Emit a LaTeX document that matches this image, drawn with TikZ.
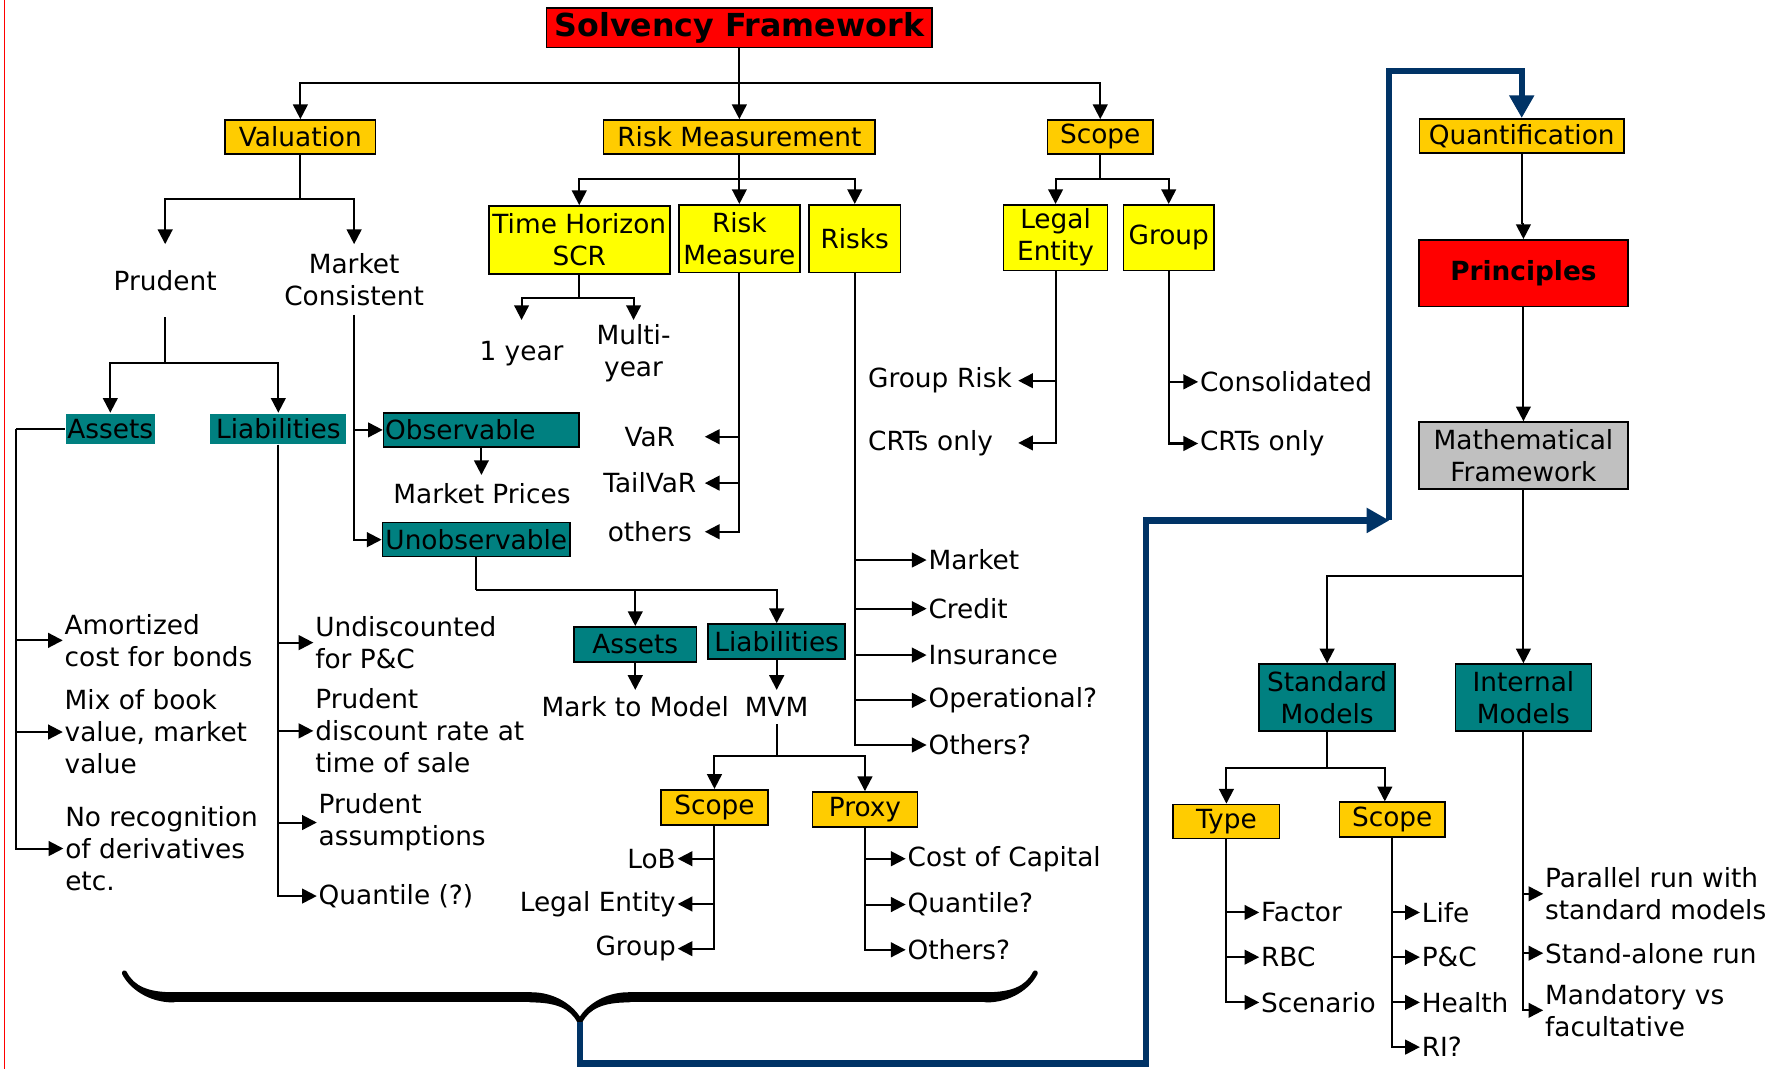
\documentclass[tikz,border=0pt]{standalone}
\usepackage{fontspec}
\setmainfont{DejaVu Sans}
\usetikzlibrary{arrows.meta,decorations.pathreplacing,calligraphy}
\definecolor{sfred}{HTML}{FF0000}
\definecolor{sforange}{HTML}{FFCC00}
\definecolor{sfyellow}{HTML}{FFFF00}
\definecolor{sfteal}{HTML}{008080}
\definecolor{sfgray}{HTML}{C0C0C0}
\definecolor{sfblue}{HTML}{003366}
\newcommand{\dgfont}{\fontsize{23.3pt}{28.3pt}\selectfont}
\newcommand{\dgbig}{\fontsize{28pt}{33pt}\selectfont}
\tikzset{
  box/.style={draw=black, line width=1.4pt, inner sep=0pt, align=center, font=\dgfont},
  obox/.style={box, fill=sforange},
  ybox/.style={box, fill=sfyellow},
  tbox/.style={box, fill=sfteal},
  tpatch/.style={box, draw=none, fill=sfteal},
  rbox/.style={box, fill=sfred, font=\dgfont\bfseries},
  gbox/.style={box, fill=sfgray},
  lbl/.style={inner sep=1.5pt, align=left, font=\dgfont},
  lblc/.style={lbl, align=center},
  link/.style={line width=1.8pt},
  arr/.style={link, -{Triangle[length=13pt,width=13pt]}},
  flow/.style={draw=sfblue, line width=5.5pt},
  flowarr/.style={flow, -{Triangle[length=20pt,width=21pt]}},
  bracket/.style={decorate, decoration={calligraphic brace, amplitude=43pt}, line width=9pt},
}
\begin{document}
\begin{tikzpicture}[x=1pt,y=-1pt]
\fill[white] (0,0) rectangle (1568,945);
\useasboundingbox (0,0) rectangle (1568,945);
\draw[red, line width=1pt] (4,0) -- (4,945);

% ---------- top level ----------
\node[rbox, font=\dgbig\bfseries, minimum width=341pt, minimum height=35pt] (sf) at (653.5,24.5) {Solvency Framework};
\node[obox, minimum width=133pt, minimum height=30pt] (val) at (265.5,121) {Valuation};
\node[obox, minimum width=240pt, minimum height=30pt] (rm) at (653.5,121) {Risk Measurement};
\node[obox, minimum width=93pt, minimum height=30pt] (sc1) at (972.5,121) {Scope};

\coordinate (j0) at (653.5,73.5);
\draw[link] (sf.south) -- (j0);
\draw[arr] (j0) -| (val.north);
\draw[arr] (j0) -- (rm.north);
\draw[arr] (j0) -| (sc1.north);

% ---------- valuation branch ----------
\node[lblc, minimum height=64pt] (prud) at (146,248) {Prudent};
\node[lblc, minimum height=62pt] (mc) at (313,247) {Market\\Consistent};
\coordinate (j1) at (265.5,176);
\draw[link] (val.south) -- (j1);
\draw[arr] (j1) -| (prud.north);
\draw[arr] (j1) -| (mc.north);

\node[tpatch, minimum width=79pt, minimum height=27pt] (as1) at (97.5,379) {Assets};
\node[tpatch, minimum width=120pt, minimum height=27pt] (li1) at (246,379) {Liabilities};
\coordinate (j2) at (146,321);
\draw[link] (prud.south) -- (j2);
\draw[arr] (j2) -| (as1.north);
\draw[arr] (j2) -| (li1.north);

\node[tbox, minimum width=173pt, minimum height=30pt, text width=170pt, align=left] (obs) at (425.5,380) {Observable};
\node[tbox, minimum width=166pt, minimum height=30pt] (unobs) at (421,477) {Unobservable};
\draw[arr] (mc.south) |- (obs.west);
\draw[arr] (mc.south) |- (unobs.west);

\node[lblc, minimum height=32pt] (mp) at (426,436) {Market Prices};
\draw[arr] (obs.south) -- (obs.south |- mp.north);

% assets leaves
\node[lbl, anchor=west] (amort) at (55.5,566) {Amortized\\cost for bonds};
\node[lbl, anchor=west] (mix) at (55.5,647) {Mix of book\\value, market\\value};
\node[lbl, anchor=west] (norec) at (56,750) {No recognition\\of derivatives\\etc.};
\coordinate (ja) at (14.5,379);
\draw[link] (as1.west) -- (ja);
\draw[arr] (ja) |- (amort.west);
\draw[arr] (ja) |- (mix.west);
\draw[arr] (ja) |- (norec.west);

% liabilities leaves
\node[lbl, anchor=west] (undisc) at (277,568) {Undiscounted\\for P\&C};
\node[lbl, anchor=west] (pdisc) at (277,646) {Prudent\\discount rate at\\time of sale};
\node[lbl, anchor=west] (passm) at (280,727) {Prudent\\assumptions};
\node[lbl, anchor=west] (qnt) at (280,792) {Quantile (?)};
\draw[arr] (li1.south) |- (undisc.west);
\draw[arr] (li1.south) |- (pdisc.west);
\draw[arr] (li1.south) |- (passm.west);
\draw[arr] (li1.south) |- (qnt.west);

% unobservable branch
\node[tbox, minimum width=108pt, minimum height=31pt] (as2) at (561.5,569.5) {Assets};
\node[tbox, minimum width=121pt, minimum height=31pt] (li2) at (686.5,567) {Liabilities};
\coordinate (j3) at (421,521.5);
\draw[link] (unobs.south) -- (j3);
\draw[arr] (j3) -| (as2.north);
\draw[arr] (j3) -| (li2.north);

\node[lblc, minimum height=30pt] (mtm) at (561.5,625) {Mark to Model};
\node[lblc, minimum height=30pt] (mvm) at (686.5,625) {MVM};
\draw[arr] (as2.south) -- (mtm.north);
\draw[arr] (li2.south) -- (mvm.north);

\node[obox, minimum width=95pt, minimum height=31pt] (sc2) at (631.5,713.5) {Scope};
\node[obox, minimum width=93pt, minimum height=31pt] (px) at (764.5,715.5) {Proxy};
\coordinate (j4) at (686.5,668.5);
\draw[link] (mvm.south) -- (j4);
\draw[arr] (j4) -| (sc2.north);
\draw[arr] (j4) -| (px.north);

\node[lbl, anchor=east] (lob) at (599,759) {LoB};
\node[lbl, anchor=east] (lent) at (599,799) {Legal Entity};
\node[lbl, anchor=east] (grp2) at (599,838.5) {Group};
\draw[arr] (sc2.south) |- (lob.east);
\draw[arr] (sc2.south) |- (lent.east);
\draw[arr] (sc2.south) |- (grp2.east);

\node[lbl, anchor=west] (coc) at (800.5,759) {Cost of Capital};
\node[lbl, anchor=west] (qnt2) at (800.5,799.5) {Quantile?};
\node[lbl, anchor=west] (oth3) at (800.5,839.5) {Others?};
\draw[arr] (px.south) |- (coc.west);
\draw[arr] (px.south) |- (qnt2.west);
\draw[arr] (px.south) |- (oth3.west);

% ---------- risk measurement branch ----------
\node[ybox, minimum width=160pt, minimum height=60pt] (th) at (512,212) {Time Horizon\\SCR};
\node[ybox, minimum width=107pt, minimum height=60pt] (rmeas) at (653.5,211) {Risk\\Measure};
\node[ybox, minimum width=81pt, minimum height=60pt] (risks) at (755.5,211) {Risks};
\coordinate (j5) at (653.5,158);
\draw[link] (rm.south) -- (j5);
\draw[arr] (j5) -| (th.north);
\draw[arr] (j5) -- (rmeas.north);
\draw[arr] (j5) -| (risks.north);

\node[lblc, minimum height=60pt] (oney) at (461,313) {1 year};
\node[lblc, minimum height=58pt] (multi) at (560,312) {Multi-\\year};
\coordinate (j6) at (512,263);
\draw[link] (th.south) -- (j6);
\draw[arr] (j6) -| (oney.north);
\draw[arr] (j6) -| (multi.north);

\node[lblc, text width=94pt, anchor=east] (var) at (623,386) {VaR};
\node[lblc, text width=94pt, anchor=east] (tvar) at (623,427) {TailVaR};
\node[lblc, text width=94pt, anchor=east] (oth1) at (623,470) {others};
\draw[arr] (rmeas.south) |- (var.east);
\draw[arr] (rmeas.south) |- (tvar.east);
\draw[arr] (rmeas.south) |- (oth1.east);

\node[lbl, anchor=west] (mkt) at (819,495) {Market};
\node[lbl, anchor=west] (cred) at (819,538) {Credit};
\node[lbl, anchor=west] (ins) at (819,579) {Insurance};
\node[lbl, anchor=west] (oper) at (819,619) {Operational?};
\node[lbl, anchor=west] (oth2) at (819,658.5) {Others?};
\draw[arr] (risks.south) |- (mkt.west);
\draw[arr] (risks.south) |- (cred.west);
\draw[arr] (risks.south) |- (ins.west);
\draw[arr] (risks.south) |- (oper.west);
\draw[arr] (risks.south) |- (oth2.west);

% ---------- scope branch ----------
\node[ybox, minimum width=92pt, minimum height=58pt] (legal) at (933,210) {Legal\\Entity};
\node[ybox, minimum width=80pt, minimum height=58pt] (grp) at (1033,210) {Group};
\coordinate (j7) at (972.5,158);
\draw[link] (sc1.south) -- (j7);
\draw[arr] (j7) -| (legal.north);
\draw[arr] (j7) -| (grp.north);

\node[lbl, text width=131pt, anchor=east] (grisk) at (900,336.5) {Group Risk};
\node[lbl, text width=131pt, anchor=east] (crt1) at (900,391.5) {CRTs only};
\draw[arr] (legal.south) |- (grisk.east);
\draw[arr] (legal.south) |- (crt1.east);

\node[lbl, anchor=west] (cons) at (1059,337.5) {Consolidated};
\node[lbl, anchor=west] (crt2) at (1059,392) {CRTs only};
\draw[arr] (grp.south) |- (cons.west);
\draw[arr] (grp.south) |- (crt2.west);

% ---------- quantification column ----------
\node[obox, minimum width=181pt, minimum height=30pt] (quant) at (1345,120) {Quantification};
\node[rbox, minimum width=185pt, minimum height=59pt] (princ) at (1346.5,241.5) {Principles};
\node[gbox, minimum width=185pt, minimum height=59pt] (mf) at (1346.5,402.5) {Mathematical\\Framework};
\coordinate (jq) at (1346.5,197);
\draw[link] (quant.south) |- (jq);
\draw[arr] (jq) -- (princ.north);
\draw[arr] (princ.south) -- (mf.north);

\node[tbox, minimum width=120pt, minimum height=59pt] (sm) at (1173,616.5) {Standard\\Models};
\node[tbox, minimum width=120pt, minimum height=59pt] (im) at (1346.5,616.5) {Internal\\Models};
\coordinate (j8) at (1346.5,509.5);
\draw[link] (mf.south) -- (j8);
\draw[arr] (j8) -| (sm.north);
\draw[arr] (j8) -- (im.north);

\node[obox, minimum width=94pt, minimum height=30pt] (type) at (1084,726) {Type};
\node[obox, minimum width=93pt, minimum height=31pt] (sc3) at (1230.5,724.5) {Scope};
\coordinate (j9) at (1173,678.5);
\draw[link] (sm.south) -- (j9);
\draw[arr] (j9) -| (type.north);
\draw[arr] (j9) -| ([xshift=-6.5pt]sc3.north);

\node[lbl, anchor=west] (fac) at (1113,806.5) {Factor};
\node[lbl, anchor=west] (rbc) at (1113,846) {RBC};
\node[lbl, anchor=west] (scen) at (1113,886) {Scenario};
\draw[arr] (type.south) |- (fac.west);
\draw[arr] (type.south) |- (rbc.west);
\draw[arr] (type.south) |- (scen.west);

\node[lbl, anchor=west] (life) at (1255,806.5) {Life};
\node[lbl, anchor=west] (pc) at (1255,846) {P\&C};
\node[lbl, anchor=west] (hlth) at (1255,886) {Health};
\node[lbl, anchor=west] (ri) at (1255,925.5) {RI?};
\draw[arr] (sc3.south) |- (life.west);
\draw[arr] (sc3.south) |- (pc.west);
\draw[arr] (sc3.south) |- (hlth.west);
\draw[arr] (sc3.south) |- (ri.west);

\node[lbl, anchor=west] (par) at (1364,790) {Parallel run with\\standard models};
\node[lbl, anchor=west] (sa) at (1364,842.5) {Stand-alone run};
\node[lbl, anchor=west] (mand) at (1364,893) {Mandatory vs\\facultative};
\draw[arr] (im.south) |- (par.west);
\draw[arr] (im.south) |- (sa.west);
\draw[arr] (im.south) |- (mand.west);

% ---------- brace and feedback path ----------
\coordinate (bl) at (110,860);
\coordinate (br) at (915,860);
\coordinate (btip) at (512.5,903);
\draw[bracket] (br) -- (bl);
\coordinate (b1) at (512.5,940);
\coordinate (b2) at (1013,940);
\coordinate (b3) at (1013,460);
\coordinate (b4) at (1228,460);
\coordinate (b5) at (1228,63);
\draw[flowarr] (btip) -- (b1) -- (b2) -- (b3) -- (b4);
\draw[flowarr] (b4) -- (b5) -| (quant.north);
\end{tikzpicture}
\end{document}
